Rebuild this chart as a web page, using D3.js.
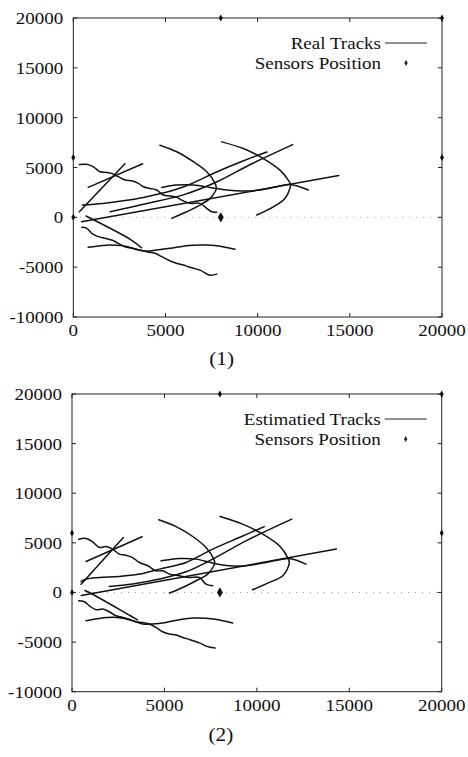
<!DOCTYPE html>
<html>
<head>
<meta charset="utf-8">
<script src="https://cdn.jsdelivr.net/npm/d3@7"></script>
<style>
  body { margin: 0; background: #fff; }
  text { font-family: "Liberation Serif", "DejaVu Serif", serif; fill: #111; }
</style>
</head>
<body>
<svg width="468" height="757"></svg>
<script>
var svg = d3.select("svg");

// axes
var xTicks = [0, 5000, 10000, 15000, 20000];
var yTicks = [-10000, -5000, 0, 5000, 10000, 15000, 20000];
var sensors = [[0, 0], [0, 6000], [8000, 0], [8000, 20000], [20000, 20000], [20000, 6000]];
var baseline = [[0, 0], [20000, 0]];

// (1) real tracks
var realW1 = [[330,5290],[730,5320],[1090,5060],[1450,4570],[1810,4510],[2080,4410],[2440,4080],[2800,3740],[3170,3670],[3530,3410],[3800,3070],[4160,2900],[4520,2740],[4880,2240],[5250,2140],[5610,2000],[5970,1650],[6330,1400],[6870,1400],[7240,900],[7510,560],[7780,500]];
var realW2 = [[460,-1000],[730,-1100],[1000,-1600],[1360,-1940],[1720,-2100],[2080,-2280],[2440,-2610],[2800,-2950],[3170,-3110],[3530,-3280],[3980,-3450],[4430,-3610],[4800,-3950],[5150,-4280],[5520,-4550],[5970,-4790],[6240,-4950],[6870,-5300],[7420,-5800],[7780,-5700]];
var realD1 = [[690,130],[3170,-2300],[3700,-3050]];
var realW3 = [[810,-3010],[1270,-2890],[1810,-2790],[2300,-2800],[2800,-2890],[3440,-3210],[3980,-3380],[4520,-3280],[5250,-3110],[5970,-2890],[6510,-2790],[7150,-2780],[7780,-2860],[8770,-3210]];
var realS1 = [[330,560],[2800,5380]];
var realS2 = [[810,3000],[3760,5380]];
var realA = [[450,-450],[14400,4200]];
var realB = [[500,1230],[1600,1400],[2700,1660],[3800,2000],[4900,2460],[6000,3070],[7800,4570],[9200,5650],[10500,6550]];
var realC = [[2000,560],[4000,1380],[6000,2280],[7800,3570],[9600,5300],[11900,7300]];
var realL7 = [[4800,3000],[5610,3240],[6510,3240],[7420,3000],[8320,2740],[9220,2640],[10130,2740],[11030,3070],[11750,3300],[12750,2740]];
var realArc1 = [[4700,7240],[5610,6580],[6510,5580],[7240,4570],[7690,3410],[7760,3000],[7690,2570],[7420,1900],[6870,1230],[6150,560],[5340,-100]];
var realArc2 = [[8050,7570],[9220,6900],[10310,5900],[11210,4740],[11660,3740],[11780,3300],[11750,2900],[11480,1900],[10850,1060],[9950,230]];

// (2) estimated tracks
var estW1 = [[360,5370],[760,5440],[1120,5100],[1480,4530],[1840,4630],[2200,4370],[2560,3860],[2920,3760],[3280,3520],[3640,3020],[4100,2690],[4540,2180],[4900,2180],[5270,1850],[5800,1680],[6350,1510],[6890,1510],[7250,850],[7610,670]];
var estW2 = [[360,-840],[670,-940],[940,-1340],[1300,-1740],[1660,-1670],[2020,-1940],[2380,-2350],[2740,-2510],[3100,-2700],[3460,-2950],[3820,-3020],[4180,-3180],[4540,-3520],[4900,-3960],[5270,-4190],[5630,-4290],[5990,-4530],[6380,-4760],[6920,-5100],[7290,-5430],[7740,-5600]];
var estD1 = [[700,200],[940,0],[3100,-2280],[3550,-2760]];
var estW3 = [[760,-2850],[1480,-2620],[2200,-2510],[2740,-2600],[3280,-2850],[3820,-3180],[4360,-3180],[5090,-3020],[5800,-2750],[6560,-2580],[7650,-2680],[8690,-3080]];
var estS1 = [[490,840],[2780,5540]];
var estS2 = [[760,3120],[3790,5610]];
var estA = [[500,-300],[14300,4370]];
var estB = [[490,1100],[760,1350],[1480,1510],[2560,1610],[3640,1850],[4730,2350],[6170,3020],[7610,4370],[9050,5540],[10400,6640]];
var estC = [[2020,600],[3280,850],[4730,1350],[6170,2080],[7610,3360],[9410,5200],[11890,7390]];
var estL7 = [[4820,3190],[5800,3420],[6710,3360],[7610,2960],[8510,2690],[9410,2690],[10320,2960],[11220,3290],[11760,3420],[12660,2860]];
var estArc1 = [[4690,7320],[5630,6640],[6530,5640],[7250,4530],[7670,3360],[7720,3000],[7670,2690],[7340,1850],[6710,1180],[5990,500],[5270,-60]];
var estArc2 = [[8010,7650],[9230,6890],[10320,5880],[11220,4700],[11670,3520],[11750,3100],[11720,2690],[11400,1680],[10680,1010],[9770,270]];

var realTracks = [realW1, realW2, realD1, realW3, realS1, realS2, realA, realB, realC, realL7, realArc1, realArc2];
var estTracks = [estW1, estW2, estD1, estW3, estS1, estS2, estA, estB, estC, estL7, estArc1, estArc2];

// text slightly wider than the font, as in the scan
function label(g, x, y, s, anchor, size) {
  g.append("text")
    .attr("transform", "translate(" + x + "," + y + ") scale(1.12,1)")
    .attr("text-anchor", anchor)
    .attr("font-size", size || 17)
    .text(s);
}

function drawPanel(box, tracks, legendText, caption, captionY) {
  var x = d3.scaleLinear().domain([0, 20000]).range([box.left, box.right]);
  var y = d3.scaleLinear().domain([-10000, 20000]).range([box.bottom, box.top]);
  var g = svg.append("g");

  // faint dotted line along y = 0
  g.append("path")
    .attr("d", d3.line().x(d => x(d[0])).y(d => y(d[1]))(baseline))
    .attr("fill", "none")
    .attr("stroke", "#999")
    .attr("stroke-width", 1)
    .attr("stroke-dasharray", "1 6");

  // frame
  g.append("rect")
    .attr("x", box.left).attr("y", box.top)
    .attr("width", box.right - box.left).attr("height", box.bottom - box.top)
    .attr("fill", "none").attr("stroke", "#222").attr("stroke-width", 1);

  // inward ticks on all sides
  var tl = 4;
  xTicks.forEach(function (t) {
    g.append("line").attr("x1", x(t)).attr("x2", x(t)).attr("y1", box.bottom).attr("y2", box.bottom - tl).attr("stroke", "#222");
    g.append("line").attr("x1", x(t)).attr("x2", x(t)).attr("y1", box.top).attr("y2", box.top + tl).attr("stroke", "#222");
    label(g, x(t), box.bottom + 19, t, "middle");
  });
  yTicks.forEach(function (t) {
    g.append("line").attr("x1", box.left).attr("x2", box.left + tl).attr("y1", y(t)).attr("y2", y(t)).attr("stroke", "#222");
    g.append("line").attr("x1", box.right).attr("x2", box.right - tl).attr("y1", y(t)).attr("y2", y(t)).attr("stroke", "#222");
    label(g, box.left - 10, y(t) + 6, t, "end");
  });

  // tracks
  var line = d3.line()
    .x(d => x(d[0]))
    .y(d => y(d[1]))
    .curve(d3.curveCatmullRom.alpha(0.5));

  g.selectAll("path.track")
    .data(tracks)
    .enter()
    .append("path")
    .attr("class", "track")
    .attr("d", line)
    .attr("fill", "none")
    .attr("stroke", "#111")
    .attr("stroke-width", 1.5)
    .attr("stroke-linecap", "round");

  // sensors
  g.selectAll("path.sensor")
    .data(sensors)
    .enter()
    .append("path")
    .attr("class", "sensor")
    .attr("transform", d => "translate(" + x(d[0]) + "," + y(d[1]) + ")")
    .attr("d", d3.symbol().type(d3.symbolDiamond).size(d => (d[0] == 8000 && d[1] == 0) ? 30 : 14))
    .attr("fill", "#111");

  // legend
  label(g, box.right - 61, box.top + 31, legendText, "end");
  g.append("line")
    .attr("x1", box.right - 57).attr("x2", box.right - 15)
    .attr("y1", box.top + 25).attr("y2", box.top + 25)
    .attr("stroke", "#222").attr("stroke-width", 1);
  label(g, box.right - 61, box.top + 51, "Sensors Position", "end");
  g.append("path")
    .attr("transform", "translate(" + (box.right - 36) + "," + (box.top + 45) + ")")
    .attr("d", d3.symbol().type(d3.symbolDiamond).size(10))
    .attr("fill", "#222");

  // caption
  label(svg, (box.left + box.right) / 2 - 36, captionY, caption, "middle", 19);
}

drawPanel({ left: 73.3, right: 442, top: 18, bottom: 317 }, realTracks, "Real Tracks", "(1)", 365);
drawPanel({ left: 72, right: 441.7, top: 394, bottom: 691.7 }, estTracks, "Estimatied Tracks", "(2)", 741);
</script>
</body>
</html>
